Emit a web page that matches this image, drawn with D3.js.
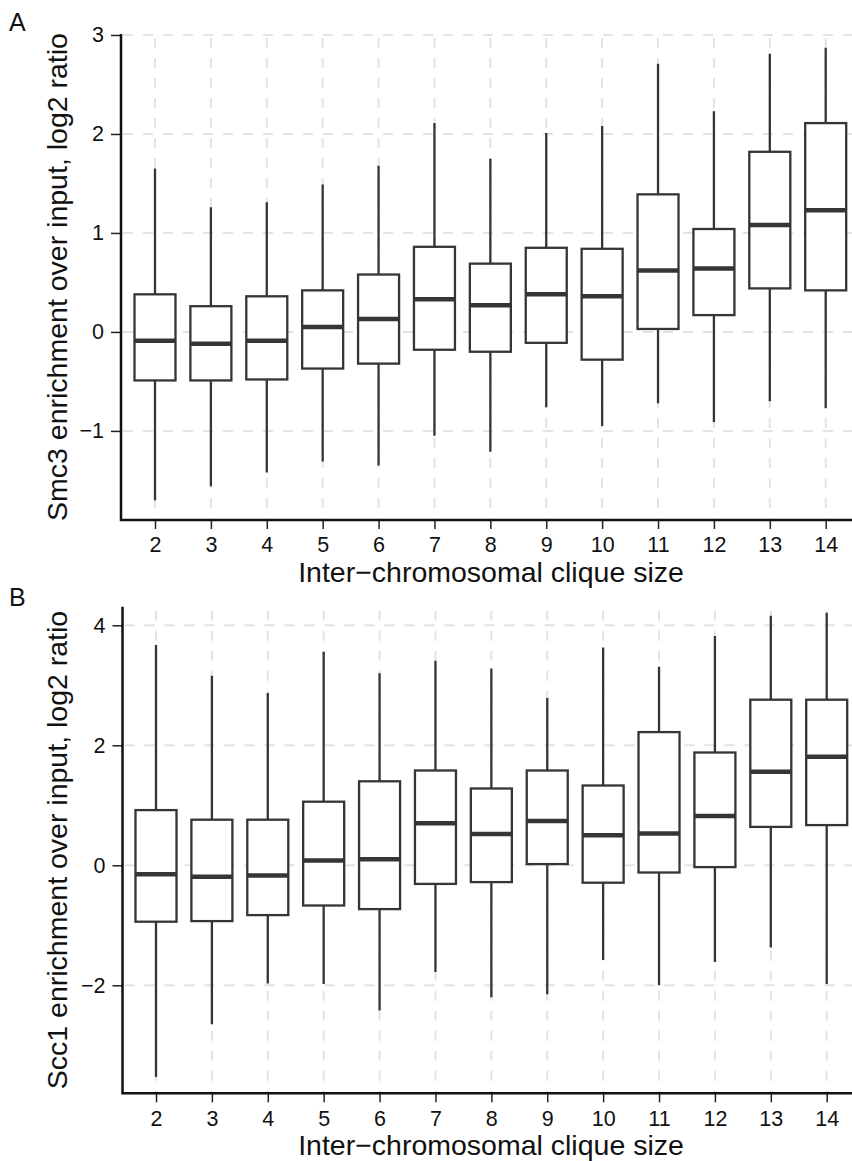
<!DOCTYPE html>
<html>
<head>
<meta charset="utf-8">
<script src="https://cdn.jsdelivr.net/npm/d3@7"></script>
<style>
  body { margin: 0; background: #fff; }
  svg { display: block; font-family: "Liberation Sans", Arial, Helvetica, sans-serif; }
</style>
</head>
<body>
<svg id="chart" width="852" height="1161"></svg>
<script>

// clique sizes on the x axis
var cliqueSizes = ["2","3","4","5","6","7","8","9","10","11","12","13","14"];

// panel A : Smc3
var smc3Upper  = [1.65, 1.26, 1.31, 1.49, 1.68, 2.11, 1.75, 2.01, 2.08, 2.71, 2.23, 2.81, 2.87];
var smc3Q3     = [0.38, 0.26, 0.36, 0.42, 0.58, 0.86, 0.69, 0.85, 0.84, 1.39, 1.04, 1.82, 2.11];
var smc3Median = [-0.09, -0.12, -0.09, 0.05, 0.13, 0.33, 0.27, 0.38, 0.36, 0.62, 0.64, 1.08, 1.23];
var smc3Q1     = [-0.49, -0.49, -0.48, -0.37, -0.32, -0.18, -0.20, -0.11, -0.28, 0.03, 0.17, 0.44, 0.42];
var smc3Lower  = [-1.70, -1.56, -1.42, -1.31, -1.35, -1.05, -1.21, -0.76, -0.95, -0.72, -0.91, -0.70, -0.77];
var smc3Ticks  = [-1, 0, 1, 2, 3];

// panel B : Scc1
var scc1Upper  = [3.67, 3.16, 2.87, 3.56, 3.20, 3.41, 3.28, 2.79, 3.63, 3.31, 3.82, 4.16, 4.21];
var scc1Q3     = [0.92, 0.76, 0.76, 1.06, 1.40, 1.58, 1.28, 1.58, 1.33, 2.22, 1.88, 2.76, 2.76];
var scc1Median = [-0.15, -0.19, -0.17, 0.08, 0.10, 0.70, 0.52, 0.74, 0.50, 0.53, 0.82, 1.56, 1.81];
var scc1Q1     = [-0.94, -0.93, -0.83, -0.67, -0.73, -0.31, -0.28, 0.02, -0.29, -0.12, -0.03, 0.64, 0.67];
var scc1Lower  = [-3.53, -2.65, -1.97, -1.98, -2.42, -1.78, -2.20, -2.15, -1.58, -2.00, -1.61, -1.37, -1.98];
var scc1Ticks  = [-2, 0, 2, 4];

var svg = d3.select("#chart");
var W = 852;
var boxColor = "#353535";
var gridColor = "#e3e3e3";

function drawPanel(p)
{
  var g = svg.append("g");

  var x = d3.scalePoint()
            .domain(cliqueSizes)
            .range([p.x0, p.x1]);

  var y = d3.scaleLinear()
            .domain(p.ydomain)
            .range([p.bottom, p.top]);

  var rows = cliqueSizes.map(function(d, i){
    return {k: d, lo: p.lower[i], q1: p.q1[i], med: p.median[i], q3: p.q3[i], hi: p.upper[i]};
  });

  // dashed grid
  g.append("g").selectAll("line")
    .data(p.ticks).enter().append("line")
    .attr("x1", p.axisX + 2).attr("x2", W)
    .attr("y1", d => y(d)).attr("y2", d => y(d))
    .attr("stroke", gridColor).attr("stroke-width", 2)
    .attr("stroke-dasharray", "10,10");

  g.append("g").selectAll("line")
    .data(cliqueSizes).enter().append("line")
    .attr("x1", d => x(d)).attr("x2", d => x(d))
    .attr("y1", p.top + 4).attr("y2", p.bottom)
    .attr("stroke", gridColor).attr("stroke-width", 2)
    .attr("stroke-dasharray", "10,10");

  // whiskers
  g.append("g").selectAll("line")
    .data(rows).enter().append("line")
    .attr("x1", d => x(d.k)).attr("x2", d => x(d.k))
    .attr("y1", d => y(d.hi)).attr("y2", d => y(d.lo))
    .attr("stroke", boxColor).attr("stroke-width", 2.3);

  // boxes
  var bw = 41;
  g.append("g").selectAll("rect")
    .data(rows).enter().append("rect")
    .attr("x", d => x(d.k) - bw / 2)
    .attr("width", bw)
    .attr("y", d => y(d.q3))
    .attr("height", d => y(d.q1) - y(d.q3))
    .attr("fill", "#fff")
    .attr("stroke", boxColor).attr("stroke-width", 2.3);

  // medians
  g.append("g").selectAll("line")
    .data(rows).enter().append("line")
    .attr("x1", d => x(d.k) - bw / 2).attr("x2", d => x(d.k) + bw / 2)
    .attr("y1", d => y(d.med)).attr("y2", d => y(d.med))
    .attr("stroke", boxColor).attr("stroke-width", 4.5);

  // axes
  var xAxis = g.append("g")
    .attr("transform", "translate(0," + p.bottom + ")")
    .call(d3.axisBottom(x).tickSize(9).tickPadding(8).tickSizeOuter(0));
  var yAxis = g.append("g")
    .attr("transform", "translate(" + p.axisX + ",0)")
    .call(d3.axisLeft(y).tickValues(p.ticks).tickFormat(d3.format("d"))
            .tickSize(10).tickPadding(7).tickSizeOuter(0));

  [xAxis, yAxis].forEach(function(a){
    a.select(".domain").remove();
    a.selectAll(".tick line").attr("stroke", "#222").attr("stroke-width", 1.5);
    a.selectAll(".tick text")
      .attr("fill", "#111")
      .style("font-size", "21.5px")
      .style("font-family", "\"Liberation Sans\", Arial, Helvetica, sans-serif");
  });

  // L-shaped frame
  g.append("path")
    .attr("d", "M" + p.axisX + "," + p.top + "V" + p.bottom + "H" + W)
    .attr("fill", "none")
    .attr("stroke", "#111")
    .attr("stroke-width", 2.5);

  // titles
  g.append("text")
    .attr("x", 491)
    .attr("y", p.bottom + 62)
    .attr("text-anchor", "middle")
    .style("font-size", "28.5px")
    .attr("fill", "#111")
    .text("Inter\u2212chromosomal clique size");

  g.append("text")
    .attr("transform", "translate(" + 67 + "," + ((p.top + p.bottom) / 2) + ") rotate(-90)")
    .attr("text-anchor", "middle")
    .style("font-size", "28.5px")
    .attr("fill", "#111")
    .text(p.ylabel);

  g.append("text")
    .attr("x", 9)
    .attr("y", p.letterY)
    .style("font-size", "25px")
    .attr("fill", "#111")
    .text(p.letter);
}

drawPanel({
  letter: "A", letterY: 31,
  x0: 155, x1: 825.7, axisX: 121,
  top: 34, bottom: 520,
  ydomain: [-1.9, 3.01],
  ticks: smc3Ticks,
  upper: smc3Upper, q3: smc3Q3, median: smc3Median, q1: smc3Q1, lower: smc3Lower,
  ylabel: "Smc3 enrichment over input, log2 ratio"
});

drawPanel({
  letter: "B", letterY: 606,
  x0: 156, x1: 826.7, axisX: 122.5,
  top: 606.7, bottom: 1093.3,
  ydomain: [-3.8, 4.31],
  ticks: scc1Ticks,
  upper: scc1Upper, q3: scc1Q3, median: scc1Median, q1: scc1Q1, lower: scc1Lower,
  ylabel: "Scc1 enrichment over input, log2 ratio"
});

</script>
</body>
</html>
